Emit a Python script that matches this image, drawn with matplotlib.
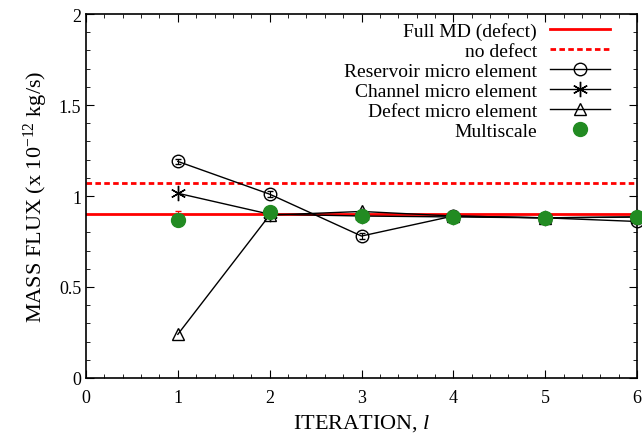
import matplotlib.pyplot as plt
from matplotlib.ticker import MultipleLocator

plt.rcParams['font.family'] = ['Liberation Serif', 'DejaVu Serif']
plt.rcParams['mathtext.fontset'] = 'custom'
plt.rcParams['mathtext.rm'] = 'Liberation Serif'
plt.rcParams['mathtext.it'] = 'Liberation Serif:italic'

# data
iteration = [1, 2, 3, 4, 5, 6]
full_md = 0.90
no_defect = 1.07
reservoir = [1.19, 1.01, 0.78, 0.89, 0.88, 0.86]
reservoir_err = [0.015, 0.015, 0.015, 0.012, 0.012, 0.015]
channel = [1.015, 0.90, 0.89, 0.885, 0.88, 0.885]
defect = [0.24, 0.895, 0.915, 0.89, 0.88, 0.885]
multiscale = [0.87, 0.91, 0.89, 0.885, 0.88, 0.885]
multiscale_err_up = [0.05, 0.0, 0.0, 0.0, 0.0, 0.0]

fig = plt.figure(figsize=(6.42, 4.39), dpi=100)
ax = fig.add_axes([86 / 642, 1 - 379 / 439, (637 - 86) / 642, (379 - 15) / 439])

h_full = ax.axhline(full_md, color='#ff0000', lw=2, label='Full MD (defect)')
h_nod = ax.axhline(no_defect, color='#ff0000', lw=2, ls=(0, (2, 1.2)), label='no defect')
ax.errorbar(iteration, reservoir, yerr=reservoir_err, fmt='none', ecolor='black',
            capsize=2, elinewidth=0.8, clip_on=False)
h_res, = ax.plot(iteration, reservoir, color='black', lw=1, marker='o', ms=9,
                 mfc='none', mew=1, clip_on=False, label='Reservoir micro element')
h_ch, = ax.plot(iteration, channel, color='black', lw=1, marker=(6, 2, 0), ms=11,
                mew=1, clip_on=False, label='Channel micro element')
h_def, = ax.plot(iteration, defect, color='black', lw=1, marker='^', ms=9, mfc='none',
                 mew=1, clip_on=False, label='Defect micro element')
ax.errorbar(iteration, multiscale, yerr=[[0] * 6, multiscale_err_up], fmt='none',
            ecolor='#ff0000', capsize=2, elinewidth=0.8, clip_on=False, zorder=4)
h_ms, = ax.plot(iteration, multiscale, 'o', color='#228b22', ms=10, clip_on=False,
                label='Multiscale', zorder=5)

ax.set_xlim(0, 6)
ax.set_ylim(0, 2)
ax.xaxis.set_major_locator(MultipleLocator(1))
ax.xaxis.set_minor_locator(MultipleLocator(0.2))
ax.yaxis.set_minor_locator(MultipleLocator(0.1))
ax.set_yticks([0, 0.5, 1, 1.5, 2])
ax.set_yticklabels(['0', '0.5', '1', '1.5', '2'])
ax.tick_params(which='both', direction='in', top=True, right=True, labelsize=13)
ax.tick_params(which='major', length=6)
ax.tick_params(which='minor', length=3)
ax.tick_params(axis='x', pad=8)
for s in ax.spines.values():
    s.set_linewidth(1.2)

ax.set_xlabel(r'ITERATION, $\mathit{l}$', fontsize=16, labelpad=4)
ax.set_ylabel(r'MASS FLUX (x 10$^{-12}$ kg/s)', fontsize=16, labelpad=6)

ax.legend(handles=[h_full, h_nod, h_res, h_ch, h_def, h_ms],
          loc='upper right', bbox_to_anchor=(0.951, 0.977), frameon=False,
          markerfirst=False, fontsize=14, handlelength=3.1, handletextpad=0.65,
          labelspacing=0.12, borderpad=0, borderaxespad=0)

fig.savefig('out.png', dpi=100)
